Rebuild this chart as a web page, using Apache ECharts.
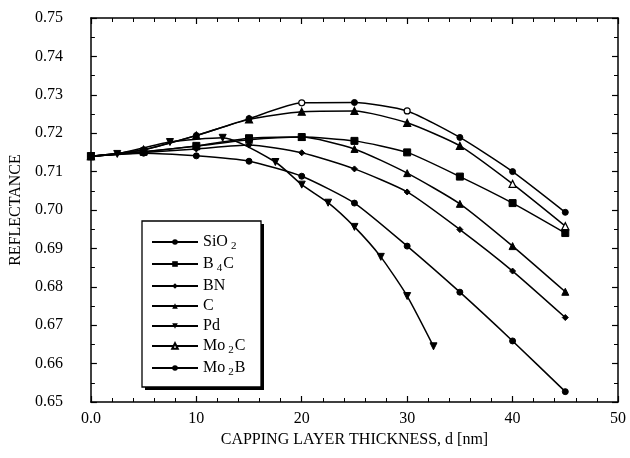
<!DOCTYPE html>
<html>
<head>
<meta charset="utf-8">
<script src="https://cdn.jsdelivr.net/npm/echarts@6/dist/echarts.min.js"></script>
<style>
  html, body { margin: 0; padding: 0; background: #fff; }
  #chart { width: 630px; height: 458px; }
</style>
</head>
<body>
<div id="chart"></div>
<script>
// Reflectance versus capping layer thickness for several capping materials
const thickness = [0, 5, 10, 15, 20, 25, 30, 35, 40, 45];
const pdThickness = [0, 2.5, 7.5, 12.5, 17.5, 20, 22.5, 25, 27.5, 30, 32.5];

const sio2 = [0.7140, 0.7148, 0.7141, 0.7127, 0.7088, 0.7018, 0.6906, 0.6786, 0.6659, 0.6527];
const b4c  = [0.7140, 0.7152, 0.7167, 0.7187, 0.7190, 0.7180, 0.7150, 0.7087, 0.7018, 0.6940];
const bn   = [0.7140, 0.7150, 0.7159, 0.7169, 0.7149, 0.7107, 0.7047, 0.6949, 0.6841, 0.6720];
const carbon = [0.7140, 0.7152, 0.7166, 0.7183, 0.7190, 0.7159, 0.7096, 0.7016, 0.6906, 0.6787];
const pd   = [0.7140, 0.7146, 0.7177, 0.7188, 0.7125, 0.7066, 0.7019, 0.6956, 0.6878, 0.6776, 0.6645];
const mo2c = [0.7140, 0.7157, 0.7194, 0.7236, 0.7256, 0.7258, 0.7227, 0.7167, 0.7068, 0.6958];
const mo2b = [0.7140, 0.7157, 0.7194, 0.7238, 0.7279, 0.7280, 0.7258, 0.7189, 0.7100, 0.6994];

const materials = ['SiO2', 'B4C', 'BN', 'C', 'Pd', 'Mo2C', 'Mo2B'];
const xTickLabels = ['0.0', '10', '20', '30', '40', '50'];
const yTickLabels = ['0.65', '0.66', '0.67', '0.68', '0.69', '0.70', '0.71', '0.72', '0.73', '0.74', '0.75'];

const SERIF = '"Liberation Serif", "DejaVu Serif", serif';
const INK = '#000';

function pairs(xs, ys, openIdx) {
  return xs.map((x, i) => {
    if (openIdx && openIdx.indexOf(i) >= 0) {
      return { value: [x, ys[i]], itemStyle: { color: '#fff', borderColor: INK, borderWidth: 1.2 } };
    }
    return { value: [x, ys[i]], itemStyle: { color: INK, borderColor: INK } };
  });
}

function lineSeries(name, data, symbol, size, hollow) {
  return {
    name: name,
    type: 'line',
    data: data,
    symbol: symbol,
    symbolSize: size,
    smooth: 0.2,
    showAllSymbol: true,
    lineStyle: { color: INK, width: 1.5 },
    itemStyle: hollow
      ? { color: '#fff', borderColor: INK, borderWidth: 1.2 }
      : { color: INK, borderColor: INK },
    emphasis: { disabled: true },
    z: 3
  };
}

const series = [
  lineSeries('SiO2', pairs(thickness, sio2), 'circle', 6),
  lineSeries('B4C', pairs(thickness, b4c), 'rect', 7),
  lineSeries('BN', pairs(thickness, bn), 'diamond', 6),
  lineSeries('C', pairs(thickness, carbon), 'triangle', 7),
  lineSeries('Pd', pairs(pdThickness, pd), 'path://M0,0 L10,0 L5,9 Z', 7),
  lineSeries('Mo2C', pairs(thickness, mo2c, [8, 9]), 'triangle', 7, true),
  lineSeries('Mo2B', pairs(thickness, mo2b, [4, 6]), 'circle', 6)
];

function legendLabel(name) {
  const m = name.match(/^([A-Za-z]+)(\d)?([A-Za-z]*)$/);
  if (!m) return '{n|' + name + '}';
  let s = '{n|' + m[1] + '}';
  if (m[2]) s += '{sub|' + m[2] + '}';
  if (m[3]) s += '{n|' + m[3] + '}';
  return s;
}

const tickAxisX = (pos, labels) => ({
  type: 'value', min: 0, max: 50, interval: 10, position: pos,
  axisLine: { show: true, onZero: false, lineStyle: { color: INK, width: 1.5 } },
  axisTick: { show: true, inside: true, length: 6, lineStyle: { color: INK, width: 1.2 } },
  minorTick: { show: true, splitNumber: 5, length: 4, lineStyle: { color: INK, width: 1 } },
  splitLine: { show: false },
  axisLabel: labels ? {
    show: true, margin: 9, color: INK, fontFamily: SERIF, fontSize: 16,
    formatter: v => xTickLabels[Math.round(v / 10)]
  } : { show: false }
});

const tickAxisY = (pos, labels) => ({
  type: 'value', min: 0.65, max: 0.75, interval: 0.01, position: pos,
  axisLine: { show: true, onZero: false, lineStyle: { color: INK, width: 1.5 } },
  axisTick: { show: true, inside: true, length: 6, lineStyle: { color: INK, width: 1.2 } },
  minorTick: { show: true, splitNumber: 2, length: 4, lineStyle: { color: INK, width: 1 } },
  splitLine: { show: false },
  axisLabel: labels ? {
    show: true, margin: 28, color: INK, fontFamily: SERIF, fontSize: 16,
    formatter: v => yTickLabels[Math.round((v - 0.65) / 0.01)]
  } : { show: false }
});

// legend frame with a solid drop shadow
const LEG = { x: 142, y: 221, w: 119, h: 166 };

const chart = echarts.init(document.getElementById('chart'), null, { renderer: 'canvas' });
chart.setOption({
  animation: false,
  backgroundColor: '#fff',
  grid: { left: 88, right: 12, top: 18, bottom: 56, containLabel: false },
  graphic: [
    { type: 'rect', z: 10, silent: true,
      shape: { x: LEG.x + 3, y: LEG.y + 3, width: LEG.w, height: LEG.h },
      style: { fill: INK } },
    { type: 'rect', z: 11, silent: true,
      shape: { x: LEG.x, y: LEG.y, width: LEG.w, height: LEG.h },
      style: { fill: '#fff', stroke: INK, lineWidth: 1.3 } }
  ],
  xAxis: [
    Object.assign(tickAxisX('bottom', true), {
      name: 'CAPPING LAYER THICKNESS, d [nm]', nameLocation: 'middle', nameGap: 30,
      nameTextStyle: { color: INK, fontFamily: SERIF, fontSize: 16 }
    }),
    tickAxisX('top', false)
  ],
  yAxis: [
    Object.assign(tickAxisY('left', true), {
      name: 'REFLECTANCE', nameLocation: 'middle', nameGap: 66, nameRotate: 90,
      nameTextStyle: { color: INK, fontFamily: SERIF, fontSize: 16 }
    }),
    tickAxisY('right', false)
  ],
  legend: {
    data: materials,
    orient: 'vertical',
    left: LEG.x, top: LEG.y,
    z: 12,
    itemWidth: 46, itemHeight: 7, itemGap: 4,
    padding: [13, 14, 12, 9],
    selectedMode: false,
    formatter: legendLabel,
    textStyle: {
      color: INK, fontFamily: SERIF, fontSize: 16, lineHeight: 16,
      rich: {
        n: { fontFamily: SERIF, fontSize: 16, color: INK },
        sub: { fontFamily: SERIF, fontSize: 11, color: INK, padding: [9, 1, 0, 3] }
      }
    }
  },
  series: series
});
</script>
</body>
</html>
